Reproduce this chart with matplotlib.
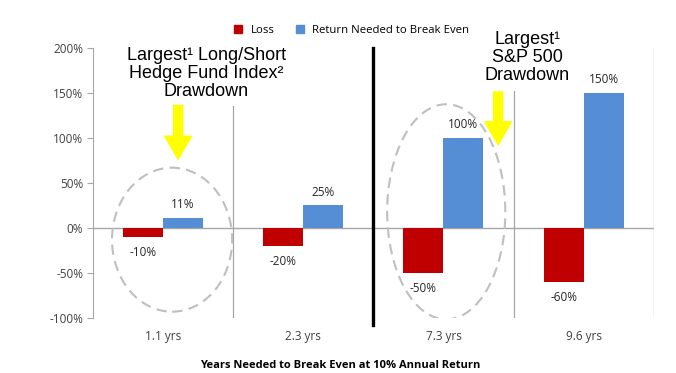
import matplotlib.pyplot as plt
import numpy as np
from matplotlib.patches import Ellipse
from matplotlib.lines import Line2D

years = ['1.1 yrs', '2.3 yrs', '7.3 yrs', '9.6 yrs']
loss = [-10, -20, -50, -60]
needed = [11, 25, 100, 150]
yticks = [-100, -50, 0, 50, 100, 150, 200]

red = '#C00000'
blue = '#558ED5'
grey = '#A6A6A6'
lab_font = 'Open Sans'

fig = plt.figure(figsize=(6.76, 3.73), dpi=100)
ax = fig.add_axes([0.1376, 0.1475, 0.8294, 0.7238])

x = np.arange(len(years))
w = 0.285
ax.bar(x - w / 2, loss, w, color=red, zorder=2)
ax.bar(x + w / 2, needed, w, color=blue, zorder=2)

for xi, v in zip(x, loss):
    ax.annotate(f'{v}%', (xi - w / 2, v), xytext=(0, -11), textcoords='offset points',
                ha='center', va='center', fontsize=8.5, family=lab_font, color='#262626')
for xi, v in zip(x, needed):
    ax.annotate(f'{v}%', (xi + w / 2, v), xytext=(0, 9.5), textcoords='offset points',
                ha='center', va='center', fontsize=8.5, family=lab_font, color='#262626')

ax.set_xlim(-0.5, len(years) - 0.5)
ax.set_ylim(-100, 200)
ax.set_yticks(yticks)
ax.set_yticklabels([f'{t}%' for t in yticks], family=lab_font, fontsize=8.5, color='#404040')
ax.set_xticks(x)
ax.set_xticklabels(years, family=lab_font, fontsize=8.5, color='#404040')
ax.tick_params(axis='x', length=0, pad=9)
ax.tick_params(axis='y', length=4, color=grey, direction='out', pad=3)
for s in ['top', 'right', 'bottom']:
    ax.spines[s].set_visible(False)
ax.spines['left'].set_color(grey)
ax.axhline(0, color=grey, lw=1, zorder=1)

# category separators
for b in [0.5, 2.5, 3.5]:
    ax.axvline(b, color=grey, lw=0.9, zorder=1)
ax.axvline(1.5, ymin=-0.025, ymax=1, color='black', lw=2.4, clip_on=False, zorder=3)

fig.text(0.503, 0.021, 'Years Needed to Break Even at 10% Annual Return', family=lab_font,
         fontsize=8, fontweight='bold', ha='center', va='center')

# annotations
ax.text(0.307, 201, 'Largest\u00b9 Long/Short\nHedge Fund Index\u00b2\nDrawdown',
        ha='center', va='top', fontsize=13, family='Liberation Sans', linespacing=1.08,
        bbox=dict(facecolor='white', edgecolor='none', pad=4), zorder=4)
ax.text(2.60, 219, 'Largest\u00b9\nS&P 500\nDrawdown',
        ha='center', va='top', fontsize=13, family='Liberation Sans', linespacing=1.08,
        bbox=dict(facecolor='white', edgecolor='none', pad=5), zorder=4, clip_on=False)

arrow = dict(facecolor='#FFFF00', edgecolor='none', width=7.5, headwidth=21, headlength=18)
ax.annotate('', xy=(0.107, 75), xytext=(0.107, 137), arrowprops=arrow, zorder=5)
ax.annotate('', xy=(2.39, 91), xytext=(2.39, 152), arrowprops=arrow, zorder=5)

ax.add_patch(Ellipse((0.064, -13), 0.857, 160, fill=False, ls=(0, (5, 3)), ec='#BFBFBF', lw=1.5, zorder=3))
ax.add_patch(Ellipse((2.02, 18), 0.843, 239, fill=False, ls=(0, (5, 3)), ec='#BFBFBF', lw=1.5, zorder=3))

handles = [Line2D([], [], marker='s', ls='none', color=red, markersize=6),
           Line2D([], [], marker='s', ls='none', color=blue, markersize=6)]
fig.legend(handles, ['Loss', 'Return Needed to Break Even'], loc='center', ncol=2,
           bbox_to_anchor=(0.515, 0.918), frameon=False, handletextpad=0.1, columnspacing=1.2,
           prop={'family': lab_font, 'size': 8.2})

fig.savefig('out.png', dpi=100)
